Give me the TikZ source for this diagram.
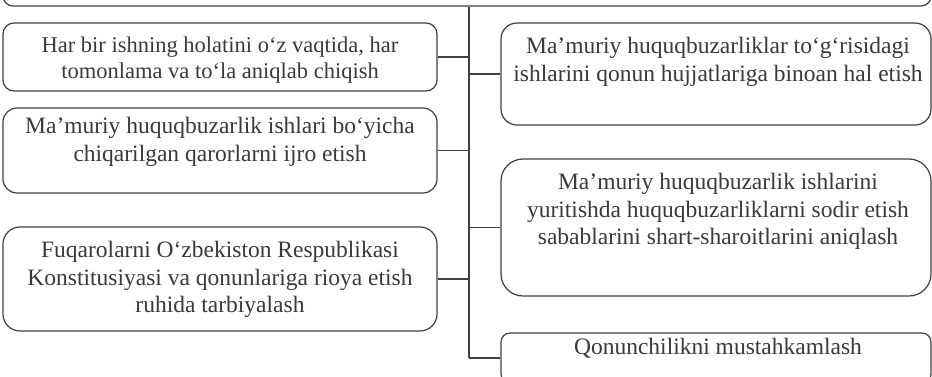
\documentclass[tikz,border=0pt]{standalone}
\usepackage{fontspec}
\setmainfont{Liberation Serif}
\definecolor{ink}{HTML}{3A3A3A}
\definecolor{edge}{HTML}{404040}
\tikzset{
  box/.style={draw=edge, line width=1.2pt, rectangle, inner sep=0pt, fill=white},
  conn/.style={draw=edge, line width=1.2pt},
  txt/.style={text=ink, align=center, inner sep=0pt, anchor=north,
    font=\fontsize{23.5}{27.5}\selectfont},
}
\begin{document}
\begin{tikzpicture}[x=1pt,y=-1pt]
\useasboundingbox (0,0) rectangle (932,376);
\clip (0,0) rectangle (932,376);
% top box (cut off)
\node[box, rounded corners=10pt, minimum width=928pt, minimum height=50pt] (top) at (467,-19) {};
% left boxes
\node[box, rounded corners=11pt, minimum width=434pt, minimum height=68pt] (l1) at (220,57) {};
\node[box, rounded corners=14pt, minimum width=434pt, minimum height=85pt] (l2) at (220,150.5) {};
\node[box, rounded corners=17pt, minimum width=434pt, minimum height=104pt] (l3) at (220,279) {};
% right boxes
\node[box, rounded corners=16pt, minimum width=430pt, minimum height=102pt] (r1) at (716,74) {};
\node[box, rounded corners=22pt, minimum width=430pt, minimum height=137pt] (r2) at (716,227.5) {};
\node[box, rounded corners=9pt, minimum width=430pt, minimum height=50pt] (r3) at (716,358) {};
% texts
\node[txt, font=\fontsize{22.5}{26}\selectfont] (l1t) at (220,36.5) {Har bir ishning holatini o‘z vaqtida, har\\tomonlama va to‘la aniqlab chiqish};
\node[txt] (l2t) at (220,117) {Ma’muriy huquqbuzarlik ishlari bo‘yicha\\chiqarilgan qarorlarni ijro etish};
\node[txt] (l3t) at (220,241) {Fuqarolarni O‘zbekiston Respublikasi\\Konstitusiyasi va qonunlariga rioya etish\\ruhida tarbiyalash};
\node[txt] (r1t) at (718,37) {Ma’muriy huquqbuzarliklar to‘g‘risidagi\\ishlarini qonun hujjatlariga binoan hal etish};
\node[txt] (r2t) at (718,173) {Ma’muriy huquqbuzarlik ishlarini\\yuritishda huquqbuzarliklarni sodir etish\\sabablarini shart-sharoitlarini aniqlash};
\node[txt] (r3t) at (718,338) {Qonunchilikni mustahkamlash};
% trunk
\coordinate (tb) at (469,358);
\coordinate (tt) at (top.south -| tb);
\draw[conn] (tt) -- (tb);
\draw[conn] (l1.east) -- (l1.east -| tb);
\draw[conn] (l2.east) -- (l2.east -| tb);
\draw[conn] (l3.east) -- (l3.east -| tb);
\draw[conn] (tb |- r1.west) -- (r1.west);
\draw[conn] (tb |- r2.west) -- (r2.west);
\draw[conn] (tb) -- (r3.west);
\end{tikzpicture}
\end{document}
